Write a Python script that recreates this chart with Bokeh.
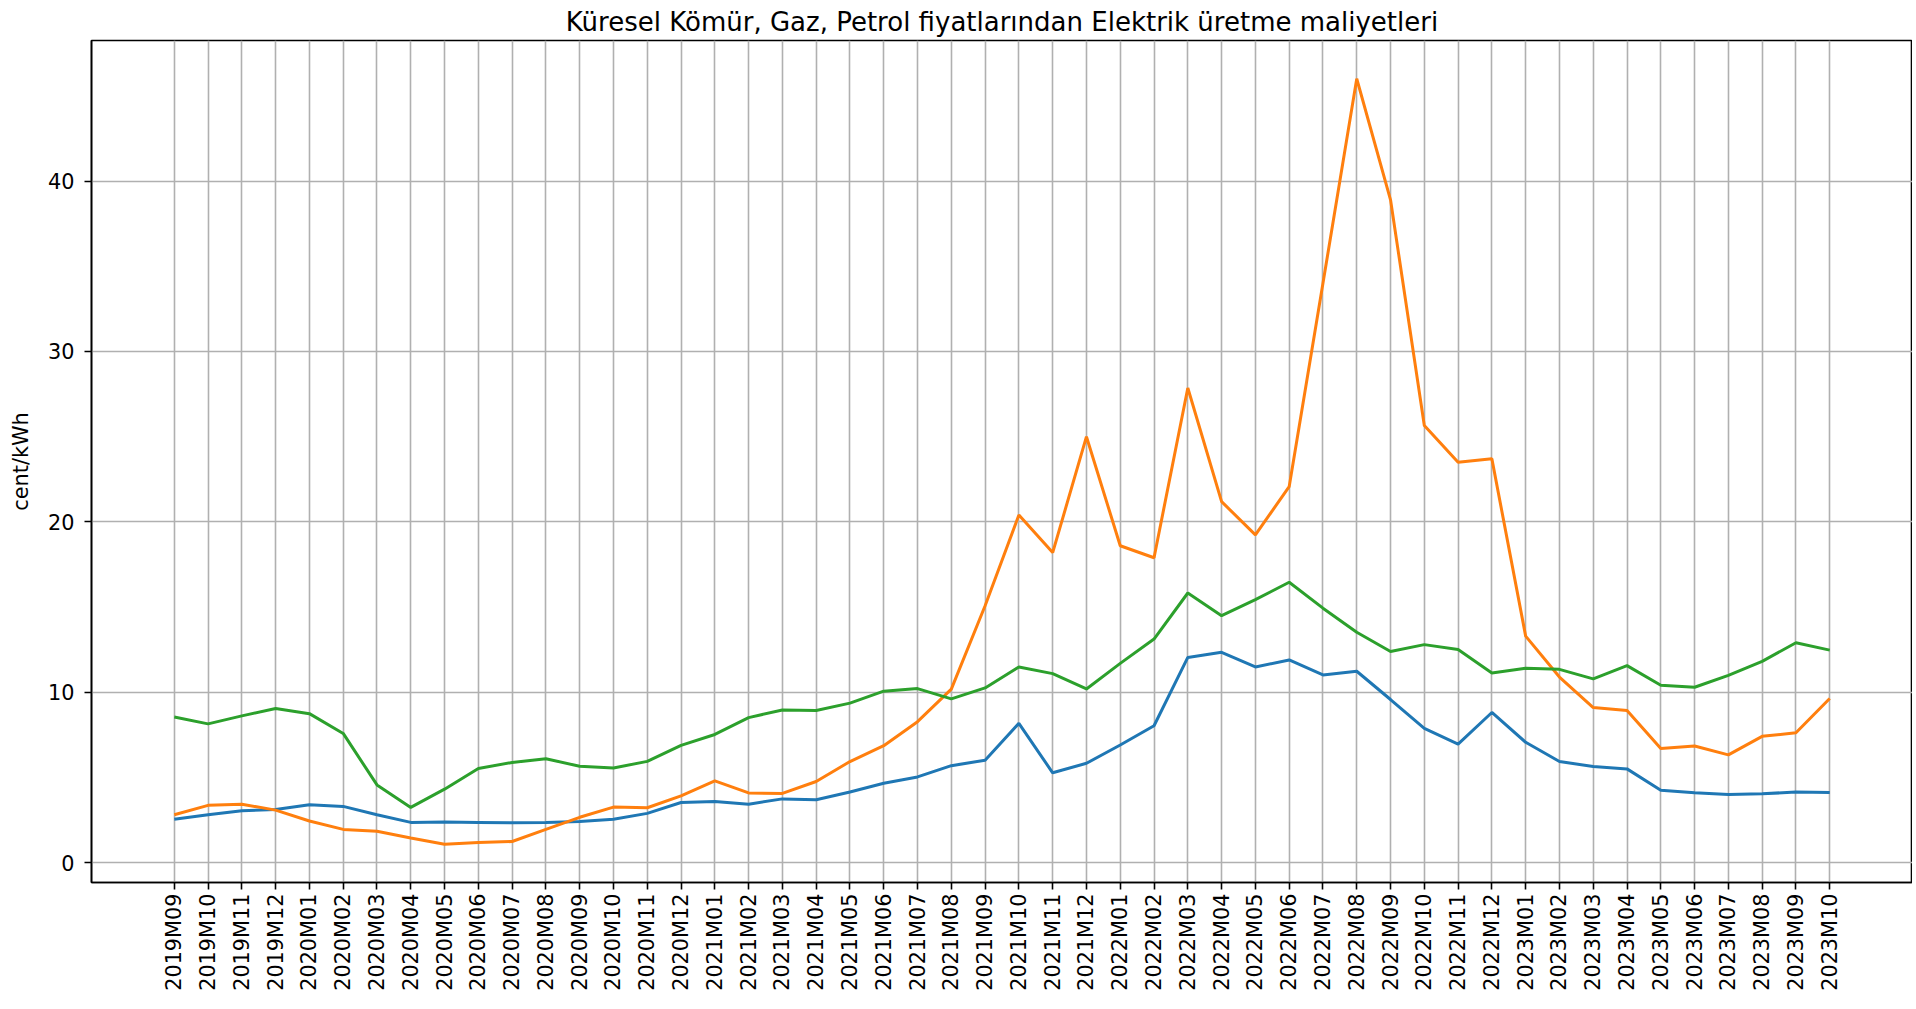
import math
from bokeh.plotting import figure
from bokeh.models import FixedTicker, Range1d
from bokeh.embed import file_html
from bokeh.resources import INLINE

months = [
    "2019M09", "2019M10", "2019M11", "2019M12",
    "2020M01", "2020M02", "2020M03", "2020M04", "2020M05", "2020M06",
    "2020M07", "2020M08", "2020M09", "2020M10", "2020M11", "2020M12",
    "2021M01", "2021M02", "2021M03", "2021M04", "2021M05", "2021M06",
    "2021M07", "2021M08", "2021M09", "2021M10", "2021M11", "2021M12",
    "2022M01", "2022M02", "2022M03", "2022M04", "2022M05", "2022M06",
    "2022M07", "2022M08", "2022M09", "2022M10", "2022M11", "2022M12",
    "2023M01", "2023M02", "2023M03", "2023M04", "2023M05", "2023M06",
    "2023M07", "2023M08", "2023M09", "2023M10",
]

komur = [2.55, 2.82, 3.05, 3.13, 3.40, 3.31, 2.82, 2.37, 2.39, 2.37,
         2.35, 2.37, 2.43, 2.55, 2.90, 3.54, 3.60, 3.44, 3.75, 3.70,
         4.15, 4.67, 5.04, 5.70, 6.02, 8.18, 5.28, 5.84, 6.91, 8.04,
         12.05, 12.35, 11.49, 11.90, 11.02, 11.24, 9.58, 7.89, 6.96, 8.82,
         7.07, 5.94, 5.65, 5.51, 4.26, 4.11, 4.01, 4.05, 4.15, 4.13]

gaz = [2.82, 3.37, 3.44, 3.09, 2.45, 1.96, 1.85, 1.46, 1.09, 1.19,
       1.25, 1.96, 2.67, 3.27, 3.23, 3.93, 4.81, 4.10, 4.07, 4.77,
       5.94, 6.87, 8.28, 10.19, 15.08, 20.41, 18.20, 25.00, 18.60, 17.90,
       27.86, 21.19, 19.24, 22.07, 34.00, 46.00, 38.90, 25.66, 23.50, 23.70,
       13.30, 10.90, 9.11, 8.94, 6.70, 6.85, 6.33, 7.42, 7.63, 9.64]

petrol = [8.56, 8.15, 8.62, 9.05, 8.75, 7.59, 4.57, 3.25, 4.32, 5.53,
          5.89, 6.11, 5.66, 5.56, 5.95, 6.89, 7.53, 8.52, 8.97, 8.94,
          9.37, 10.07, 10.22, 9.62, 10.26, 11.49, 11.10, 10.20, 11.70, 13.13,
          15.83, 14.50, 15.44, 16.46, 14.94, 13.53, 12.40, 12.80, 12.51, 11.14,
          11.41, 11.35, 10.79, 11.57, 10.42, 10.30, 11.00, 11.82, 12.91, 12.48]

y_ticks = [0, 10, 20, 30, 40]

title_text = "Küresel Kömür, Gaz, Petrol fiyatlarından Elektrik üretme maliyetleri"
y_label = "cent/kWh"

FONT = "DejaVu Sans"

W, H = 1912, 993
LEFT = 91

x = list(range(len(months)))
n = len(months)
xpad = 0.05 * (n - 1)
allv = komur + gaz + petrol
ymin, ymax = min(allv), max(allv)
ypad = 0.05 * (ymax - ymin)

p = figure(
    width=W, height=H,
    output_backend="svg", toolbar_location=None,
    x_range=Range1d(-xpad, n - 1 + xpad),
    y_range=Range1d(ymin - ypad, ymax + ypad),
    min_border_left=LEFT, min_border_right=0, min_border_top=0, min_border_bottom=0,
)

p.title.text = title_text
p.title.align = "center"
p.title.text_font = FONT
p.title.text_font_size = "26px"
p.title.text_font_style = "normal"
p.title.text_color = "black"
p.title.standoff = 8

colors = ["#1f77b4", "#ff7f0e", "#2ca02c"]
for ys, c in zip([komur, gaz, petrol], colors):
    p.line(x, ys, line_color=c, line_width=3)

p.xaxis.ticker = FixedTicker(ticks=x)
p.xaxis.major_label_overrides = {i: m for i, m in enumerate(months)}
p.xaxis.major_label_orientation = math.pi / 2
p.yaxis.ticker = FixedTicker(ticks=y_ticks)
p.yaxis.axis_label = y_label

for ax in [p.xaxis[0], p.yaxis[0]]:
    ax.major_label_text_font = FONT
    ax.major_label_text_font_size = "20.8px"
    ax.major_label_text_color = "black"
    ax.axis_label_text_font = FONT
    ax.axis_label_text_font_size = "20.8px"
    ax.axis_label_text_font_style = "normal"
    ax.axis_label_text_color = "black"
    ax.axis_line_color = "black"
    ax.axis_line_width = 1.6
    ax.major_tick_line_color = "black"
    ax.major_tick_line_width = 1.6
    ax.major_tick_out = 7
    ax.major_tick_in = 0
    ax.minor_tick_line_color = None

p.xaxis.major_label_standoff = 4
p.yaxis.major_label_standoff = 10
p.yaxis.axis_label_standoff = 12

p.xgrid.ticker = FixedTicker(ticks=x)
p.ygrid.ticker = FixedTicker(ticks=y_ticks)
for g in [p.xgrid[0], p.ygrid[0]]:
    g.grid_line_color = "#b0b0b0"
    g.grid_line_width = 1.6

p.outline_line_color = "black"
p.outline_line_width = 1.6
p.outline_line_alpha = 1.0
p.background_fill_color = "white"
p.border_fill_color = "white"

open("out.html", "w").write(file_html(p, INLINE))
